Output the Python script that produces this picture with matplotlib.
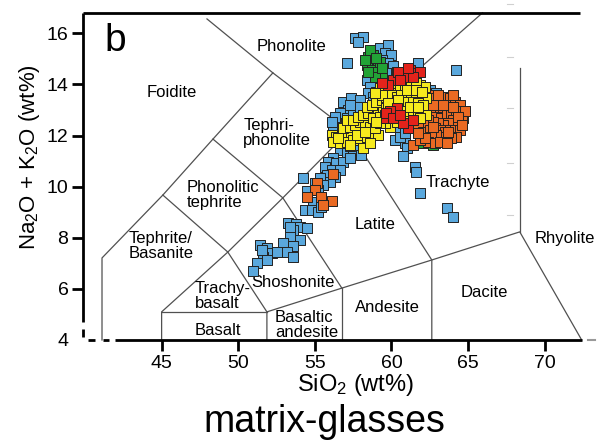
import matplotlib
matplotlib.use("Agg")
import matplotlib.pyplot as plt

plt.rcParams['font.family'] = ['Liberation Sans', 'DejaVu Sans']
plt.rcParams['mathtext.fontset'] = 'custom'
plt.rcParams['mathtext.rm'] = 'Liberation Sans'
plt.rcParams['mathtext.it'] = 'Liberation Sans:italic'
plt.rcParams['mathtext.bf'] = 'Liberation Sans:bold'

# matrix-glass analyses, SiO2 vs Na2O+K2O (wt%)
blue_sio2 = [57.61, 58.15, 57.83, 57.07, 59.24, 59.78, 59.57, 60.00, 59.35, 59.78,
             60.11, 60.22, 58.37, 58.59, 58.48, 58.80, 59.02, 61.74, 64.24,
             56.85, 57.39, 57.93, 57.72, 57.17, 56.63, 57.07, 57.50, 58.15, 56.41,
             56.74, 56.20,
             56.63, 57.07, 57.50, 58.04, 57.72, 57.28, 56.85, 56.20, 55.87, 56.41,
             56.85, 55.65, 56.09, 56.63, 55.76, 56.30, 55.33, 55.98, 55.54, 55.00,
             55.22, 54.46, 54.89, 54.35, 54.78, 55.22, 55.43, 54.24,
             60.22, 60.87, 60.98, 60.76, 61.52, 61.63, 61.85, 63.59, 64.02, 62.50,
             62.93, 60.54,
             53.26, 53.80, 54.02, 53.59, 54.46, 53.37, 54.02, 52.93, 53.59, 51.41,
             51.85, 52.17, 51.63, 52.72, 53.15, 53.59, 51.20, 50.98, 51.85, 51.52,
             53.37, 52.50,
             56.30, 56.09, 57.93, 57.28, 58.80, 59.24, 59.67, 62.39, 60.54, 60.87,
             57.28]
blue_alk = [15.80, 15.84, 15.67, 14.85, 15.41, 15.54, 15.22, 15.15, 14.96, 14.83,
            14.70, 14.44, 14.17, 13.91, 13.65, 13.52, 13.72, 14.83, 14.57,
            13.33, 13.46, 13.39, 13.13, 13.00, 12.87, 12.68, 12.81, 13.00, 12.48,
            12.22, 12.28,
            11.44, 11.31, 11.44, 11.24, 11.63, 11.57, 11.70, 11.11, 10.98, 10.91,
            10.98, 10.78, 10.65, 10.65, 10.46, 10.39, 10.33, 10.20, 10.07, 10.13,
            9.87, 9.81, 9.41, 9.09, 9.09, 9.02, 9.22, 10.33,
            11.83, 11.70, 11.50, 11.18, 10.78, 10.59, 9.74, 9.15, 8.83, 13.78,
            13.65, 12.22,
            8.59, 8.54, 8.44, 8.31, 8.37, 8.05, 7.92, 7.79, 7.66, 7.72,
            7.59, 7.40, 7.26, 7.46, 7.46, 7.26, 7.00, 6.68, 7.13, 7.53,
            8.44, 7.46,
            12.74, 12.54, 13.13, 13.20, 13.33, 14.17, 14.44, 13.26, 11.96, 12.09,
            11.11]

green_sio2 = [58.48, 58.80, 58.59, 58.91, 59.13, 58.37, 58.70, 59.02, 59.35, 58.59,
              58.26, 59.24, 58.91, 64.67, 62.72, 62.07, 61.41, 61.63,
              59.02, 59.35, 58.48]
green_alk = [15.09, 15.15, 14.89, 14.83, 14.70, 14.76, 14.57, 14.50, 14.44, 15.35,
             14.96, 14.89, 14.30, 12.68, 11.63, 11.70, 12.28, 12.61,
             15.02, 14.63, 14.50]

red_sio2 = [60.76, 61.20, 61.63, 61.85, 60.98, 60.11, 59.78, 59.35, 60.33, 59.89,
            59.67, 61.09, 61.41, 60.76, 60.43, 61.41, 59.67,
            61.09, 60.54, 60.11, 60.54]
red_alk = [14.50, 14.57, 14.44, 14.50, 14.30, 14.17, 13.98, 14.04, 13.07, 12.94,
           12.68, 12.28, 12.61, 12.48, 14.50, 14.30, 12.87,
           14.63, 14.17, 12.68, 12.81]

yellow_sio2 = [56.09, 56.41, 56.74, 57.07, 57.39, 57.72, 58.04, 56.20, 56.63, 57.07,
               57.50, 57.93, 58.37, 58.70, 59.13, 56.85, 57.28, 57.61, 57.93, 58.26,
               58.59, 58.91, 58.15, 58.59,
               57.07, 57.50, 57.83, 58.15, 58.48, 58.80, 59.13, 59.46, 58.80, 59.24,
               59.57, 58.37, 58.70, 59.02, 59.35, 59.67, 60.00, 60.33, 60.65, 60.98,
               61.41, 61.74, 62.07, 60.00, 60.33, 60.65, 59.89, 60.33, 59.57, 59.24,
               59.24, 59.57, 59.89, 60.22, 60.54, 60.87, 61.20, 61.52, 61.85, 62.17,
               60.33, 60.65, 60.98, 61.30, 61.63, 59.67, 60.00, 60.33, 60.65, 60.98,
               61.30, 61.63, 61.96, 62.28, 60.76, 61.09, 61.41, 61.74, 62.07, 62.28,
               61.85, 59.35, 58.91, 60.98,
               56.52, 57.28, 57.72, 58.26, 59.02, 59.67, 60.22, 60.76, 61.20, 61.74,
               59.78, 60.43, 60.98, 61.63, 61.96, 59.89]
yellow_alk = [12.02, 11.96, 12.09, 11.96, 12.09, 12.22, 12.28, 11.76, 11.70, 11.76,
              11.83, 11.89, 11.96, 12.02, 12.02, 12.28, 12.35, 12.41, 12.54, 12.48,
              12.35, 12.28, 11.50, 11.70,
              12.61, 12.61, 12.74, 12.81, 12.87, 12.94, 13.00, 13.13, 12.68, 12.74,
              12.81, 13.13, 13.20, 13.33, 13.39, 13.46, 13.33, 13.20, 13.13, 13.07,
              12.94, 12.94, 12.81, 12.94, 12.74, 12.81, 12.35, 12.54, 12.48, 12.48,
              13.85, 13.78, 13.72, 13.78, 13.91, 13.98, 14.04, 13.98, 13.98, 13.91,
              14.50, 14.30, 14.24, 14.17, 14.11, 13.52, 13.59, 13.52, 13.59, 13.59,
              13.65, 13.59, 13.52, 13.46, 13.33, 13.33, 13.33, 13.26, 13.20, 12.81,
              12.68, 13.59, 13.65, 12.61,
              11.89, 11.63, 12.02, 12.15, 12.54, 13.07, 13.00, 12.94, 13.13, 13.13,
              13.26, 13.39, 13.78, 13.78, 13.72, 14.04]

orange_sio2 = [62.50, 62.83, 63.15, 63.48, 63.80, 64.13, 64.46, 63.70, 63.37, 63.04,
               62.72, 62.50, 62.93, 63.26, 63.59, 63.91, 64.24, 64.57, 64.35, 64.02,
               63.70, 63.37, 63.04, 62.72, 62.39, 62.07, 61.74, 62.07, 62.50, 62.83,
               63.15, 63.48, 63.80, 64.13, 64.46, 64.24, 63.91, 63.59, 63.26, 62.93,
               62.61, 62.39, 62.83, 63.15, 63.59, 61.41, 61.85, 62.17, 63.04, 64.02,
               64.78, 61.63, 61.96,
               62.28, 62.72, 63.37, 64.02, 64.35, 63.70, 61.74, 62.72, 64.57,
               56.20, 55.11, 55.00, 54.46, 55.43, 56.09, 55.54]
orange_alk = [13.59, 13.46, 13.39, 13.52, 13.46, 13.33, 13.20, 13.13, 13.00, 13.13,
              13.00, 12.87, 12.74, 12.68, 12.81, 12.87, 12.94, 12.74, 12.48, 12.61,
              12.48, 12.41, 12.48, 12.54, 12.61, 12.41, 12.28, 12.15, 12.22, 12.28,
              12.22, 12.15, 12.22, 12.22, 12.22, 11.96, 11.89, 11.96, 11.96, 12.02,
              11.96, 11.76, 11.70, 11.76, 11.70, 11.63, 11.83, 11.89, 13.59, 13.59,
              12.94, 12.74, 12.87,
              13.33, 13.20, 13.20, 13.13, 12.74, 12.15, 12.09, 12.35, 12.41,
              10.50, 10.13, 9.87, 9.61, 9.61, 9.45, 9.29]

# field boundaries of the TAS grid (SiO2, alkalis)
boundaries = [
    [(47.96, 16.56), (52.26, 14.45), (57.22, 12.18), (65.94, 16.80)],
    [(52.26, 14.45), (48.35, 11.86), (45.08, 9.67), (41.11, 7.21), (41.11, 4.0)],
    [(48.35, 11.86), (52.91, 9.56), (57.22, 12.18)],
    [(45.08, 9.67), (49.32, 7.44), (52.91, 9.56), (56.76, 6.03)],
    [(45.0, 4.0), (45.0, 5.1), (49.32, 7.44), (51.87, 5.1), (51.87, 4.0)],
    [(45.0, 5.1), (51.87, 5.1)],
    [(51.87, 5.1), (56.76, 6.03), (62.63, 7.13), (68.37, 8.23), (72.41, 4.0)],
    [(56.76, 6.03), (56.76, 4.0)],
    [(57.22, 12.18), (62.63, 7.13), (62.63, 4.0)],
    [(68.37, 8.23), (68.37, 14.64)],
]

# field names: (text, SiO2, alkalis, horizontal alignment)
field_labels = [
    ("Phonolite", 53.5, 15.5, "center"),
    ("Foidite", 45.68, 13.7, "center"),
    ("Tephri-\nphonolite", 50.32, 12.1, "left"),
    ("Phonolitic\ntephrite", 46.65, 9.67, "left"),
    ("Tephrite/\nBasanite", 42.87, 7.68, "left"),
    ("Trachy-\nbasalt", 47.18, 5.72, "left"),
    ("Basalt", 48.68, 4.39, "center"),
    ("Shoshonite", 53.58, 6.23, "center"),
    ("Basaltic\nandesite", 52.39, 4.59, "left"),
    ("Latite", 58.92, 8.5, "center"),
    ("Andesite", 59.76, 5.29, "center"),
    ("Dacite", 66.08, 5.84, "center"),
    ("Rhyolite", 71.3, 7.99, "center"),
    ("Trachyte", 64.33, 10.18, "center"),
]

xticks = [45, 50, 55, 60, 65, 70]
yticks = [4, 6, 8, 10, 12, 14, 16]
x0, x1 = 39.87, 72.3
y0, y1 = 4.0, 16.8

fig = plt.figure(figsize=(6.01, 4.41), dpi=100)
ax = fig.add_axes([83 / 601, 1 - 340 / 441, (580 - 83) / 601, (340 - 12.8) / 441])
ax.set_xlim(x0, x1)
ax.set_ylim(y0, y1)
for s in ax.spines.values():
    s.set_visible(False)

for seg in boundaries:
    xs, ys = zip(*seg)
    ax.plot(xs, ys, color="#505050", lw=0.9, zorder=1, clip_on=False)

for text, x, y, ha in field_labels:
    ax.text(x, y, text, ha=ha, va="center", fontsize=12, linespacing=0.95,
            multialignment="left", zorder=2)

# faint leftover ticks on the right
for yy in [17.15, 15.07, 13.08, 10.92, 8.89]:
    ax.plot([67.55, 67.9], [yy, yy], color="#d0d0d0", lw=0.8, clip_on=False, zorder=0)

mk = dict(marker="s", s=50, edgecolors="#222222", linewidths=0.7, zorder=3)
ax.scatter(blue_sio2, blue_alk, c="#5aa8dd", **mk)
ax.scatter(green_sio2, green_alk, c="#22a336", **mk)
ax.scatter(orange_sio2, orange_alk, c="#ea6a23", **mk)
ax.scatter(yellow_sio2, yellow_alk, c="#f6ea1e", **mk)
ax.scatter(red_sio2, red_alk, c="#e3231b", **mk)

# frame with broken axes at the lower left
axc = dict(color="black", lw=2, clip_on=False, zorder=4, solid_capstyle="butt")
ax.plot([x0, x1], [y1, y1], **axc)
ax.plot([x0, x0], [y1, 4.70], **axc)
ax.plot([x0, x0], [4.42, 4.12], **axc)
ax.plot([40.19, 40.65], [y0, y0], **axc)
ax.plot([41.17, 41.56], [y0, y0], **axc)
ax.plot([41.95, 72.41], [y0, y0], **axc)
ax.plot([72.8, 73.25], [y0, y0], color="#999999", lw=1.5, clip_on=False)

ax.set_xticks(xticks)
ax.set_yticks(yticks)
ax.tick_params(direction="out", length=8, width=2, labelsize=14, color="black")
ax.tick_params(axis="y", pad=2.5)
ax.tick_params(axis="x", pad=3)
ax.yaxis.get_major_ticks()[0].tick1line.set_visible(False)

ax.text(41.24, 15.31, "b", fontsize=28, ha="left", va="baseline")

fig.text(355.5 / 601, 1 - 391 / 441, "SiO$_2$ (wt%)", fontsize=17,
         ha="center", va="baseline")
fig.text(30 / 601, 1 - 157.5 / 441, "Na$_2$O + K$_2$O (wt%)", fontsize=16,
         rotation=90, ha="center", va="center")
fig.text(324 / 601, 1 - 432 / 441, "matrix-glasses", fontsize=27,
         ha="center", va="baseline")

fig.savefig("out.png", dpi=100)
